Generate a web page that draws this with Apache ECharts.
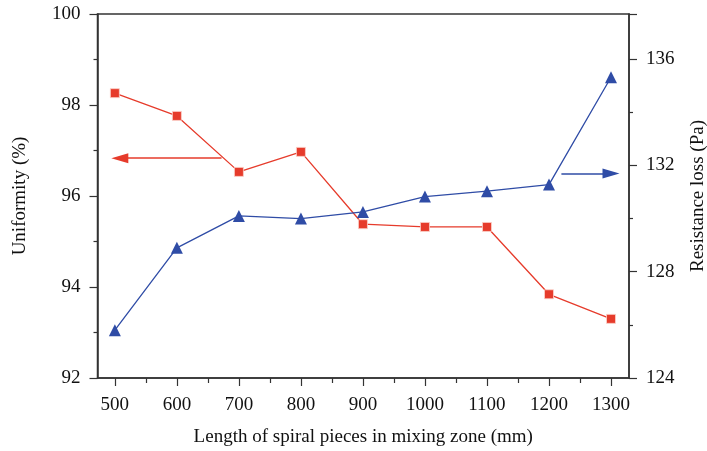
<!DOCTYPE html>
<html>
<head>
<meta charset="utf-8">
<script src="https://cdn.jsdelivr.net/npm/echarts@6/dist/echarts.min.js"></script>
<style>
  html, body { margin: 0; padding: 0; background: #fff; }
  #chart { width: 707px; height: 451px; }
</style>
</head>
<body>
<div id="chart"></div>
<script>
// data
var lengths = [500, 600, 700, 800, 900, 1000, 1100, 1200, 1300]
var minorLengths = [550, 650, 750, 850, 950, 1050, 1150, 1250]
var uniformity = [98.26, 97.76, 96.53, 96.97, 95.38, 95.32, 95.32, 93.84, 93.30]
var resistance = [125.8, 128.9, 130.1, 130.0, 130.25, 130.83, 131.03, 131.28, 135.32]
// arrow annotations: [x from, x to (arrowhead centre), y]
var uniArrow = [672, 508, 96.83]
var resArrow = [1220, 1300, 131.7]

var red = '#e63b2b'
var blue = '#2f4ca6'
var axisColor = '#333'
var font = '"Liberation Serif", "DejaVu Serif", serif'

var chart = echarts.init(document.getElementById('chart'))

var axisCommon = {
  axisLine: { show: true, lineStyle: { color: axisColor, width: 1.5 } },
  axisTick: { show: true, inside: false, length: 8, lineStyle: { color: axisColor, width: 1.2 } },
  minorTick: { show: true, splitNumber: 2, length: 4, lineStyle: { color: axisColor, width: 1.2 } },
  splitLine: { show: false },
  axisLabel: { color: '#111', fontSize: 19, fontFamily: font, margin: 17 },
  nameTextStyle: { color: '#111', fontSize: 19, fontFamily: font }
}

chart.setOption({
  animation: false,
  backgroundColor: '#fff',
  grid: {
    left: 97.5, right: 78, top: 14, bottom: 73,
    outerBoundsMode: 'none',
    containLabel: false,
    show: true, borderColor: axisColor, borderWidth: 1.5, backgroundColor: 'transparent'
  },
  xAxis: [
    Object.assign({}, axisCommon, {
      type: 'value',
      min: 472, max: 1329,
      axisLabel: Object.assign({}, axisCommon.axisLabel, {
        margin: 18,
        customValues: lengths,
        formatter: function (v) { return String(v) }
      }),
      axisTick: Object.assign({}, axisCommon.axisTick, { customValues: lengths }),
      minorTick: { show: false },
      name: 'Length of spiral pieces in mixing zone (mm)',
      nameLocation: 'middle',
      nameGap: 50
    }),
    {
      type: 'value',
      position: 'bottom',
      min: 472, max: 1329,
      axisLine: { show: false },
      axisLabel: { show: false },
      splitLine: { show: false },
      axisTick: { show: true, length: 5, customValues: minorLengths, lineStyle: { color: axisColor, width: 1.2 } }
    }
  ],
  yAxis: [
    Object.assign({}, axisCommon, {
      type: 'value',
      min: 92, max: 100, interval: 2,
      name: 'Uniformity (%)',
      nameLocation: 'middle',
      nameRotate: 90,
      nameGap: 68
    }),
    Object.assign({}, axisCommon, {
      type: 'value',
      position: 'right',
      min: 124, max: 137.7, interval: 4,
      axisLabel: Object.assign({}, axisCommon.axisLabel, { showMaxLabel: false }),
      name: 'Resistance loss (Pa)',
      nameLocation: 'middle',
      nameRotate: 90,
      nameGap: 60
    })
  ],
  series: [
    {
      name: 'Uniformity',
      type: 'line',
      yAxisIndex: 0,
      data: lengths.map(function (x, i) { return [x, uniformity[i]] }),
      symbol: 'rect',
      symbolSize: 9,
      lineStyle: { color: red, width: 1.3 },
      itemStyle: { color: red, borderColor: '#fbd3cc', borderWidth: 0.8 },
      markLine: {
        silent: true,
        symbol: ['none', 'triangle'],
        symbolSize: [10, 17],
        label: { show: false },
        lineStyle: { color: red, width: 1.5, type: 'solid' },
        data: [[{ coord: [uniArrow[0], uniArrow[2]] }, { coord: [uniArrow[1], uniArrow[2]] }]]
      }
    },
    {
      name: 'Resistance loss',
      type: 'line',
      yAxisIndex: 1,
      data: lengths.map(function (x, i) { return [x, resistance[i]] }),
      symbol: 'triangle',
      symbolSize: 12,
      lineStyle: { color: blue, width: 1.3 },
      itemStyle: { color: blue },
      markLine: {
        silent: true,
        symbol: ['none', 'triangle'],
        symbolSize: [10, 17],
        label: { show: false },
        lineStyle: { color: blue, width: 1.5, type: 'solid' },
        data: [[{ coord: [resArrow[0], resArrow[2]] }, { coord: [resArrow[1], resArrow[2]] }]]
      }
    }
  ]
})
</script>
</body>
</html>
